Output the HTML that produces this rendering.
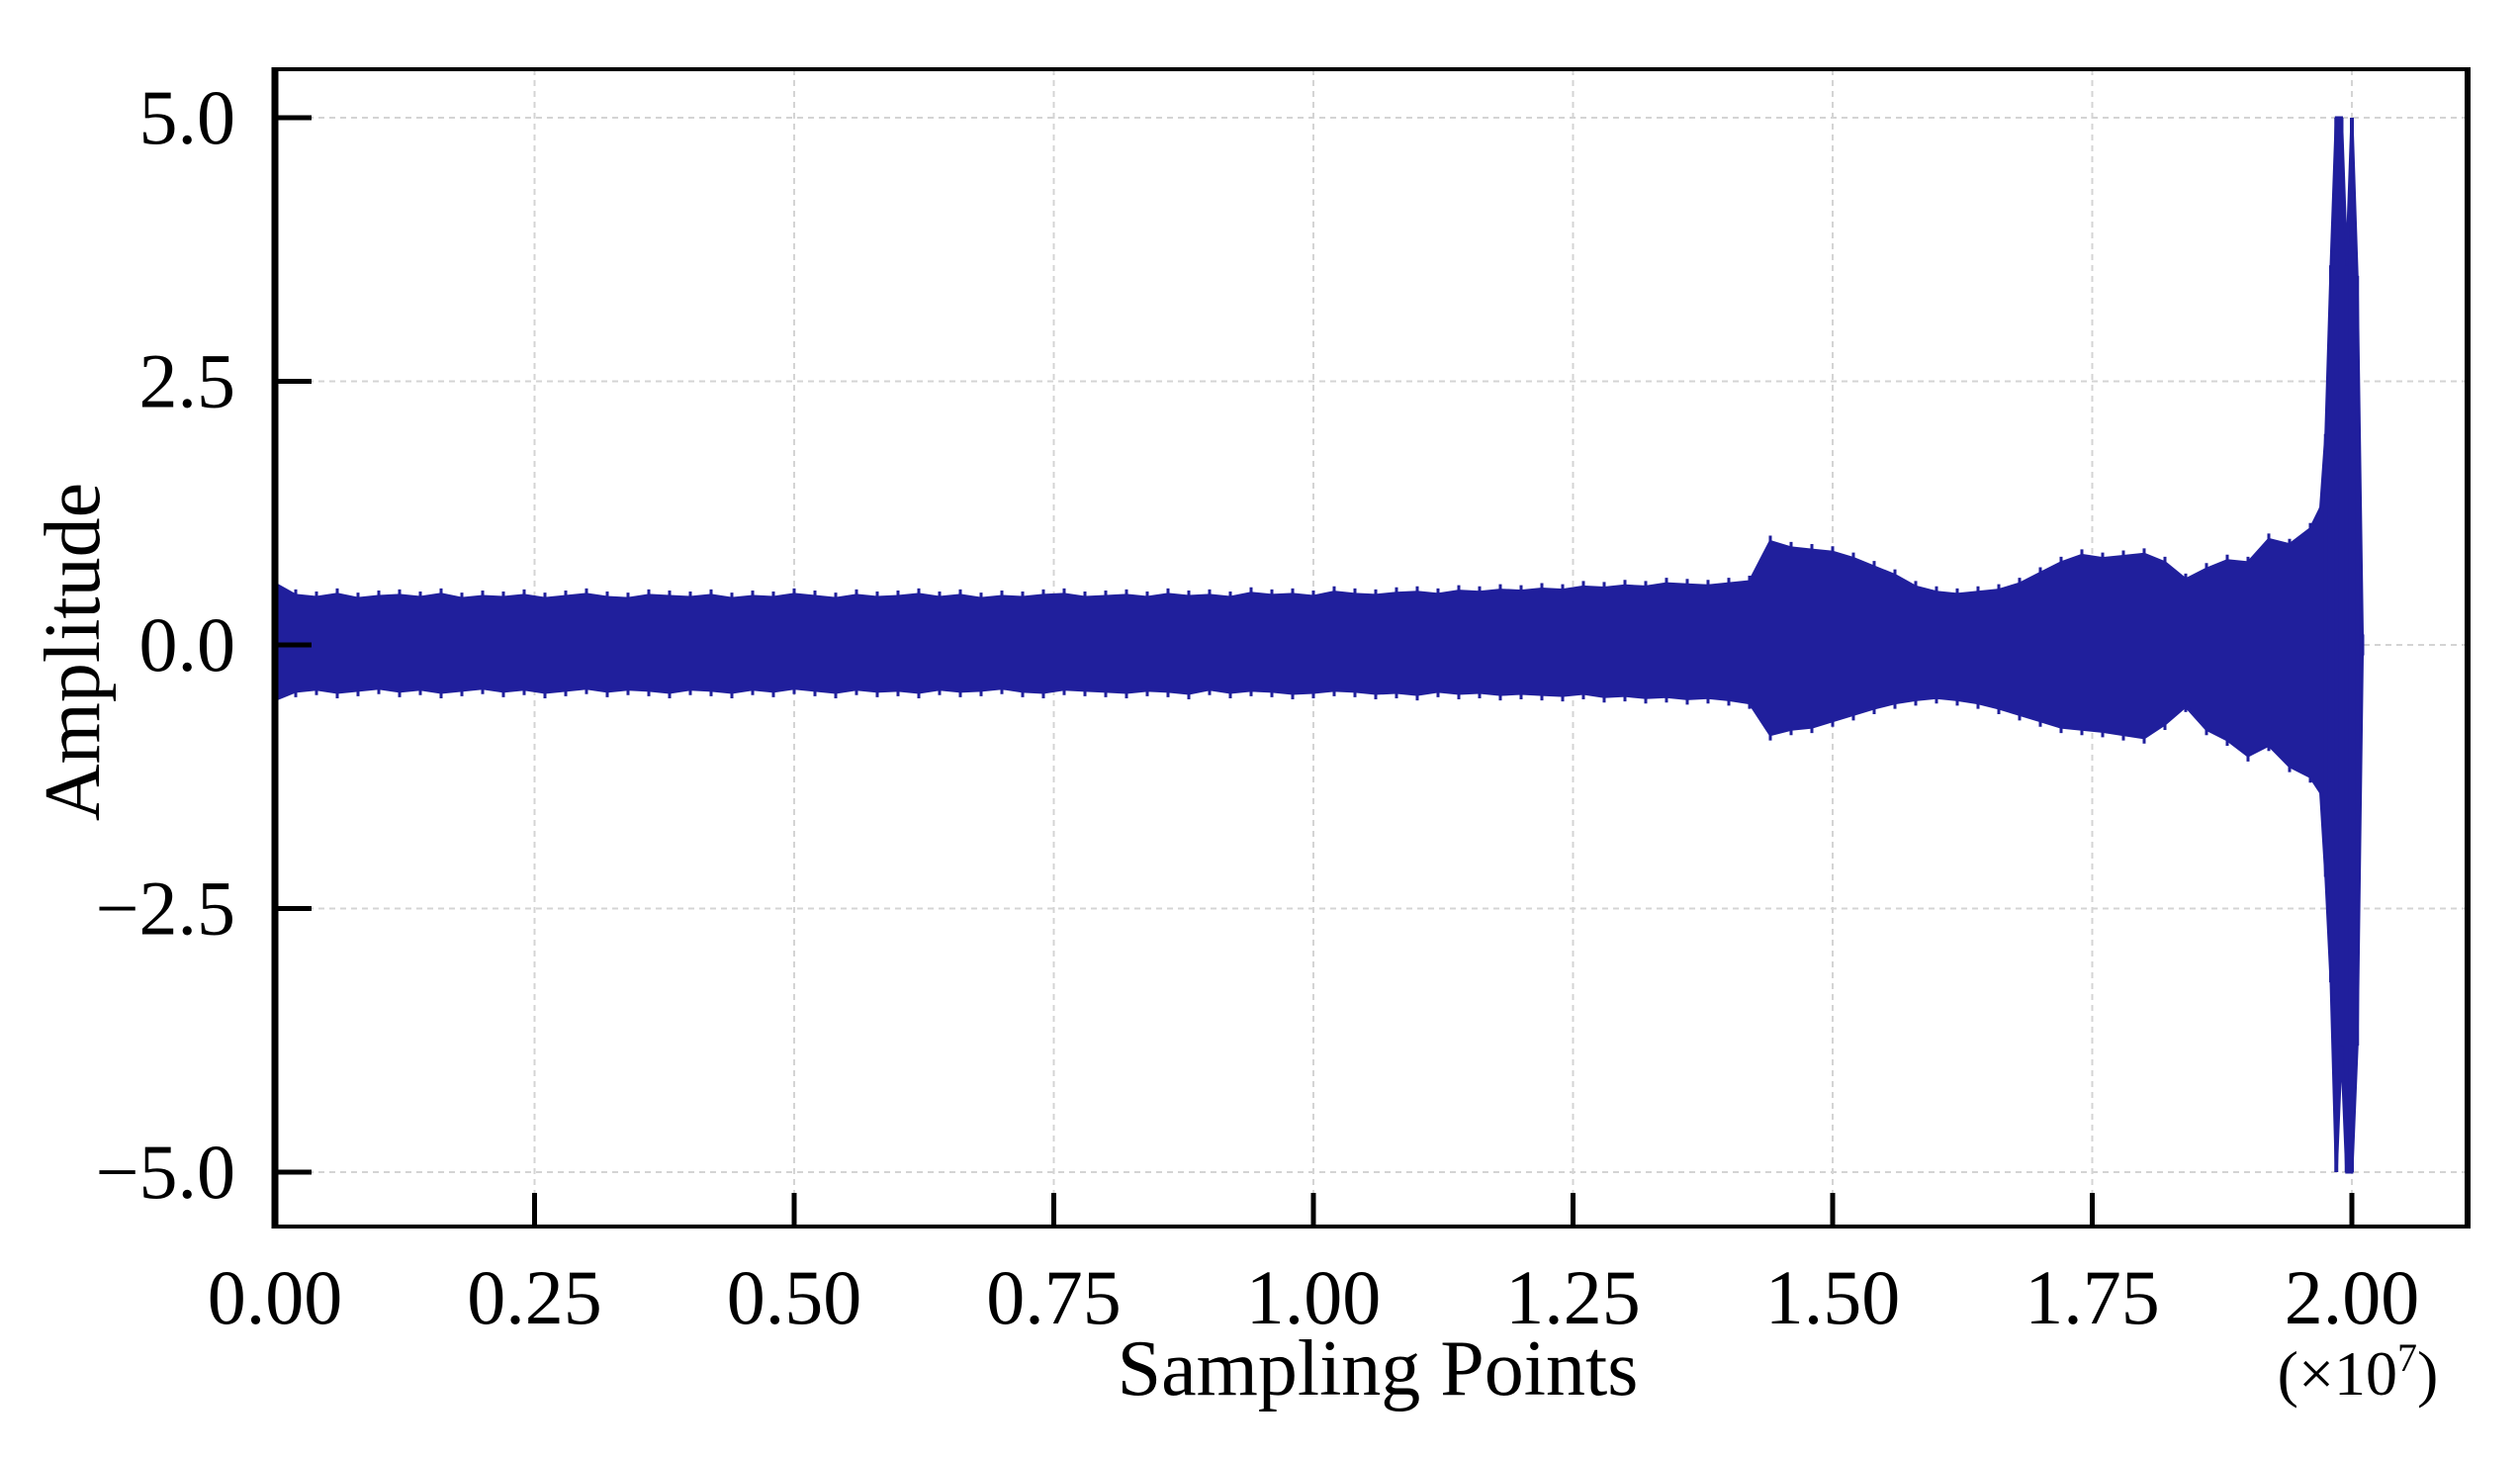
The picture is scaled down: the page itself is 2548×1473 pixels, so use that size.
<!DOCTYPE html>
<html><head><meta charset="utf-8"><style>
html,body{margin:0;padding:0;background:#fff}
svg{display:block}
text{font-family:"Liberation Serif","DejaVu Serif",serif;fill:#000}
</style></head><body>
<svg id="chart" width="2548" height="1473" viewBox="0 0 2548 1473" xmlns="http://www.w3.org/2000/svg" style="position:absolute;left:0;top:0">
<g id="grid"></g>
<g id="series"></g>
<g id="axes"></g>
</svg>
<script>
const xTicks=[0,0.25,0.5,0.75,1.0,1.25,1.5,1.75,2.0];
const xTickLabels=["0.00","0.25","0.50","0.75","1.00","1.25","1.50","1.75","2.00"];
const yTicks=[5,2.5,0,-2.5,-5];
const yTickLabels=["5.0","2.5","0.0","\u22122.5","\u22125.0"];
const upper=[0.58,0.47,0.45,0.48,0.44,0.46,0.47,0.45,0.48,0.44,0.46,0.45,0.47,0.44,0.46,0.48,0.45,0.44,0.47,0.46,0.45,
0.47,0.44,0.46,0.45,0.48,0.46,0.44,0.47,0.45,0.46,0.48,0.45,0.47,0.44,0.46,0.45,0.47,0.48,0.45,0.46,
0.47,0.45,0.48,0.46,0.47,0.45,0.49,0.47,0.48,0.46,0.50,0.48,0.47,0.49,0.50,0.48,0.51,0.50,0.52,0.51,
0.53,0.52,0.55,0.54,0.56,0.55,0.58,0.57,0.56,0.58,0.60,
0.98,0.92,0.90,0.88,0.82,0.74,0.66,0.55,0.50,
0.48,0.50,0.52,0.58,0.68,0.78,0.85,0.82,0.84,0.86,
0.78,0.62,0.72,0.80,0.78,1.0,0.95,1.1];
const lower=[-0.52,-0.44,-0.42,-0.45,-0.43,-0.41,-0.44,-0.42,-0.45,-0.43,-0.41,-0.44,-0.42,-0.45,-0.43,-0.41,-0.44,-0.42,-0.43,-0.45,-0.42,
-0.43,-0.45,-0.42,-0.44,-0.41,-0.43,-0.45,-0.42,-0.44,-0.43,-0.45,-0.42,-0.44,-0.43,-0.41,-0.44,-0.45,-0.42,-0.43,-0.44,
-0.45,-0.43,-0.44,-0.46,-0.42,-0.45,-0.43,-0.44,-0.46,-0.45,-0.43,-0.44,-0.46,-0.45,-0.47,-0.44,-0.46,-0.45,-0.47,-0.46,
-0.47,-0.48,-0.46,-0.49,-0.48,-0.50,-0.49,-0.51,-0.50,-0.52,-0.55,
-0.85,-0.80,-0.78,-0.72,-0.66,-0.60,-0.55,-0.52,-0.50,
-0.52,-0.55,-0.60,-0.66,-0.72,-0.78,-0.80,-0.82,-0.85,-0.88,
-0.75,-0.58,-0.80,-0.90,-1.05,-0.95,-1.15,-1.25];
const spikeX=[1.97,1.975,1.98,1.985,1.99,1.995,2.0,2.005,2.01];
const spikeUp=[1.3,2.0,3.6,5.0,5.0,3.6,5.0,3.5,0.1];
const spikeDn=[-1.4,-2.2,-3.2,-5.0,-3.8,-5.0,-5.0,-3.8,-0.1];
const xStep=0.02;

const NS="http://www.w3.org/2000/svg";
const L=278,R=2495,T=70,B=1240;
const X=v=>278+v*(2378-278)/2.0;
const Y=v=>652-v*(652-119)/5;
function mk(tag,attrs,parent){const e=document.createElementNS(NS,tag);for(const k in attrs)e.setAttribute(k,attrs[k]);parent.appendChild(e);return e;}
const grid=document.getElementById('grid'),series=document.getElementById('series'),axes=document.getElementById('axes');

xTicks.forEach((t,i)=>{
  const g=mk('line',{x1:X(t),x2:X(t),y1:T,y2:B,stroke:'#d4d4d4','stroke-width':2,'stroke-dasharray':'6,5'},grid);
  
  
});
yTicks.forEach((t,i)=>{
  const g=mk('line',{x1:L,x2:R,y1:Y(t),y2:Y(t),stroke:'#d4d4d4','stroke-width':2,'stroke-dasharray':'6,5'},grid);
  
  
});

let pts=[];
upper.forEach((u,i)=>pts.push(X(i*xStep)+','+Y(u)));
spikeX.forEach((sx,i)=>pts.push(X(sx)+','+Y(spikeUp[i])));
for(let i=spikeX.length-1;i>=0;i--)pts.push(X(spikeX[i])+','+Y(spikeDn[i]));
for(let i=lower.length-1;i>=0;i--)pts.push(X(i*xStep)+','+Y(lower[i]));
const poly=mk('polygon',{points:pts.join(' '),fill:'#201f9c',stroke:'#201f9c','stroke-width':3,'stroke-linejoin':'miter'},series);


upper.forEach((u,i)=>{
  const s=mk('line',{x1:X(i*xStep),x2:X(i*xStep),y1:Y(u)-6,y2:Y(lower[i])+6,stroke:'#201f9c','stroke-width':3},series);
  
  
});
spikeX.forEach((sx,i)=>{
  const s=mk('line',{x1:X(sx),x2:X(sx),y1:Y(spikeUp[i]),y2:Y(spikeDn[i]),stroke:'#201f9c','stroke-width':4},series);
  
  
});

const fr=mk('rect',{x:L,y:T,width:R-L,height:B-T,fill:'none',stroke:'#000','stroke-width':4},axes);


const ls=mk('line',{x1:L,x2:L,y1:T-2,y2:B+2,stroke:'#000','stroke-width':7},axes);


const rs=mk('line',{x1:R,x2:R,y1:T-2,y2:B+2,stroke:'#000','stroke-width':6},axes);



xTicks.forEach((t,i)=>{
  const tk=mk('line',{x1:X(t),x2:X(t),y1:B,y2:B-34,stroke:'#000','stroke-width':5},axes);
  
  
  const tx=mk('text',{x:X(t),y:1338,'font-size':78,'text-anchor':'middle'},axes);
  tx.textContent=xTickLabels[i];
  
  
});
yTicks.forEach((t,i)=>{
  const tk=mk('line',{x1:L,x2:L+37,y1:Y(t),y2:Y(t),stroke:'#000','stroke-width':5},axes);
  
  
  const tx=mk('text',{x:238,y:Y(t)+26,'font-size':78,'text-anchor':'end'},axes);
  tx.textContent=yTickLabels[i];
  
  
});
</script>
<svg style="position:absolute;left:0;top:0" width="2548" height="1473">
<text x="1393" y="1410" font-size="80" text-anchor="middle" style="font-family:'Liberation Serif',serif">Sampling Points</text>
<text x="2384" y="1410" font-size="64" text-anchor="middle" style="font-family:'Liberation Serif',serif">(×10<tspan dy="-24" font-size="40">7</tspan><tspan dy="24">)</tspan></text>
<text transform="translate(100,659) rotate(-90)" font-size="80" text-anchor="middle" style="font-family:'Liberation Serif',serif">Amplitude</text>
</svg>
</body></html>
